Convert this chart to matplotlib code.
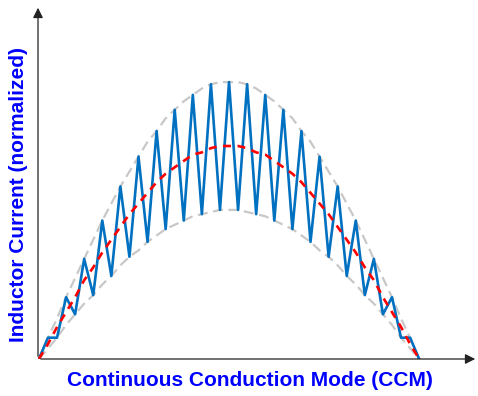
import matplotlib
matplotlib.use("Agg")
import matplotlib.pyplot as plt

# half switching-period steps (21 switching cycles across one half sine)
steps = list(range(43))

# normalized so the average peak = 1
mean_current = [0, .07, .15, .22, .29, .37, .43, .50, .56, .62, .68, .73, .78, .83, .87, .90,
                .93, .96, .97, .99, 1.00, 1.00, 1.00, .99, .97, .96, .93, .90, .87, .83, .78,
                .73, .68, .62, .56, .50, .43, .37, .29, .22, .15, .07, 0]
upper_env = [0, .10, .19, .29, .38, .47, .56, .65, .73, .81, .88, .95, 1.02, 1.07, 1.13, 1.17,
             1.21, 1.24, 1.27, 1.29, 1.30, 1.30, 1.30, 1.29, 1.27, 1.24, 1.21, 1.17, 1.13, 1.07,
             1.02, .95, .88, .81, .73, .65, .56, .47, .38, .29, .19, .10, 0]
lower_env = [0, .05, .10, .16, .21, .26, .30, .35, .39, .44, .48, .51, .55, .58, .61, .63,
             .65, .67, .68, .69, .70, .70, .70, .69, .68, .67, .65, .63, .61, .58, .55, .51,
             .48, .44, .39, .35, .30, .26, .21, .16, .10, .05, 0]

# ripple current: valleys on the lower envelope, peaks on the upper one
ripple = [lower_env[i] if i % 2 == 0 else upper_env[i] for i in steps]

fig = plt.figure(figsize=(4.78, 3.96), dpi=100)
ax = fig.add_axes([38 / 478, 37 / 396, 440 / 478, 354 / 396])

ax.plot(steps, upper_env, color="#c8c8c8", lw=1.6, ls=(0, (4.5, 2.5)), zorder=1)
ax.plot(steps, lower_env, color="#c8c8c8", lw=1.6, ls=(0, (4.5, 2.5)), zorder=1)
ax.plot(steps, ripple, color="#0070c0", lw=1.9, zorder=2)
ax.plot(steps, mean_current, color="#ff0000", lw=1.9, ls=(0, (3, 2.5)), zorder=3)

ax.set_xlim(-0.1, 48.5)
ax.set_ylim(0, 1.662)
ax.axis("off")

# axes with arrow heads
ax.annotate("", xy=(1.0, 0), xytext=(0, 0), xycoords="axes fraction",
            arrowprops=dict(arrowstyle="-|>", color="#222222", lw=0.9, mutation_scale=15))
ax.annotate("", xy=(0, 1.0), xytext=(0, 0), xycoords="axes fraction",
            arrowprops=dict(arrowstyle="-|>", color="#222222", lw=0.9, mutation_scale=15))

fig.text(250 / 478, 1 - 381 / 396, "Continuous Conduction Mode (CCM)", ha="center", va="center",
         color="blue", fontsize=15, fontweight="bold", family="Liberation Sans")
fig.text(19 / 478, 1 - 194 / 396, "Inductor Current (normalized)", ha="center", va="center",
         rotation=90, color="blue", fontsize=15, fontweight="bold", family="Liberation Sans")

fig.savefig("out.png", dpi=100)
